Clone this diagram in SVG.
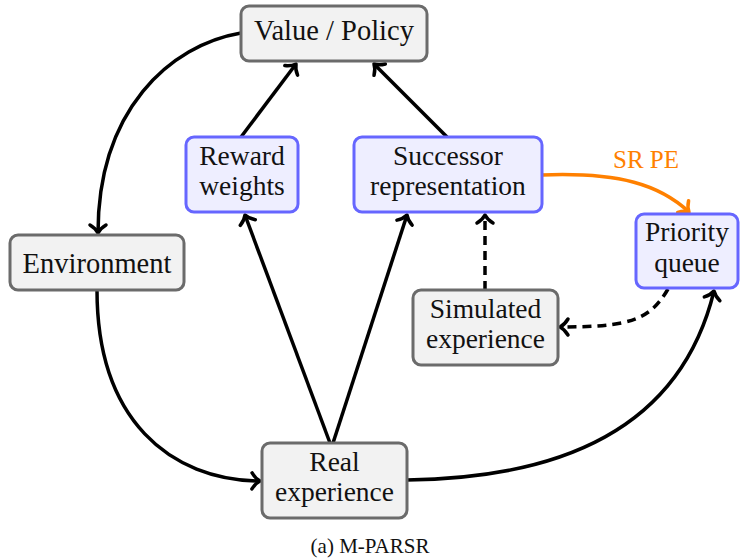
<svg xmlns="http://www.w3.org/2000/svg" width="740" height="558" viewBox="0 0 740 558">
<style>
.gray rect{fill:#f2f2f2;stroke:#6b6b6b;stroke-width:3}
.blue rect{fill:#eeeeff;stroke:#6666ff;stroke-width:3}
text{font-family:"Liberation Serif","Times New Roman",serif;font-size:28.5px;fill:#111;text-anchor:middle}
.two{font-size:27.5px}
.edge{fill:none;stroke:#000;stroke-width:3.5}
.dash{stroke-dasharray:9 6}
.or{fill:none;stroke:#ff8000;stroke-width:3.5}
</style>
<defs>
<marker id="ah" markerUnits="userSpaceOnUse" markerWidth="24" markerHeight="24" viewBox="-12 -12 24 24" refX="0" refY="0" orient="auto">
<path d="M -8 -8 C -5 -3 -2 -1 0 0 C -2 1 -5 3 -8 8" fill="none" stroke="#000" stroke-width="3.5" stroke-linecap="round" stroke-linejoin="round"/>
</marker>
<marker id="aho" markerUnits="userSpaceOnUse" markerWidth="24" markerHeight="24" viewBox="-12 -12 24 24" refX="0" refY="0" orient="auto">
<path d="M -8 -8 C -5 -3 -2 -1 0 0 C -2 1 -5 3 -8 8" fill="none" stroke="#ff8000" stroke-width="3.5" stroke-linecap="round" stroke-linejoin="round"/>
</marker>
</defs>
<g id="connectors">
<path class="edge" d="M 241 33 C 170 45, 98 110, 98 233" marker-end="url(#ah)"/>
<path class="edge" d="M 97 290 C 97 420, 170 480, 260 481" marker-end="url(#ah)"/>
<path class="edge" d="M 330 443 L 245 215" marker-end="url(#ah)"/>
<path class="edge" d="M 333 443 L 407 215" marker-end="url(#ah)"/>
<path class="edge" d="M 241 137 L 296 64" marker-end="url(#ah)"/>
<path class="edge" d="M 447 137 L 374 64" marker-end="url(#ah)"/>
<path class="or" d="M 542 175 C 620 172, 660 185, 689 212" marker-end="url(#aho)"/>
<path class="edge" d="M 407 480 C 560 478, 680 430, 714 291" marker-end="url(#ah)"/>
<path class="edge dash" d="M 668 289 C 650 320, 630 327, 560 327" marker-end="url(#ah)"/>
<path class="edge dash" d="M 485 290 L 485 215" marker-end="url(#ah)"/>
<text x="646" y="168" style="font-size:25px;fill:#ff8000">SR PE</text>
</g>
<g id="value-policy" class="gray">
<rect x="241" y="6" width="186" height="55" rx="8"/>
<text x="334" y="39.5">Value / Policy</text>
</g>
<g id="reward-weights" class="blue">
<rect x="186" y="137" width="112" height="75" rx="8"/>
<text class="two" x="242" y="164.5">Reward</text>
<text class="two" x="242" y="195">weights</text>
</g>
<g id="successor-representation" class="blue">
<rect x="354" y="137" width="188" height="75" rx="8"/>
<text class="two" x="448" y="164.5">Successor</text>
<text class="two" x="448" y="195">representation</text>
</g>
<g id="environment" class="gray">
<rect x="10" y="235" width="174" height="55" rx="8"/>
<text x="97" y="272.5">Environment</text>
</g>
<g id="priority-queue" class="blue">
<rect x="636" y="214" width="102" height="74" rx="8"/>
<text class="two" x="687" y="241">Priority</text>
<text class="two" x="687" y="271.5">queue</text>
</g>
<g id="simulated-experience" class="gray">
<rect x="413" y="290" width="145" height="75" rx="8"/>
<text class="two" x="485.5" y="317.5">Simulated</text>
<text class="two" x="485.5" y="348">experience</text>
</g>
<g id="real-experience" class="gray">
<rect x="262" y="443" width="145" height="75" rx="8"/>
<text class="two" x="334.5" y="470.5">Real</text>
<text class="two" x="334.5" y="501">experience</text>
</g>
<text x="370" y="553" style="font-size:21px">(a) M-PARSR</text>
</svg>
